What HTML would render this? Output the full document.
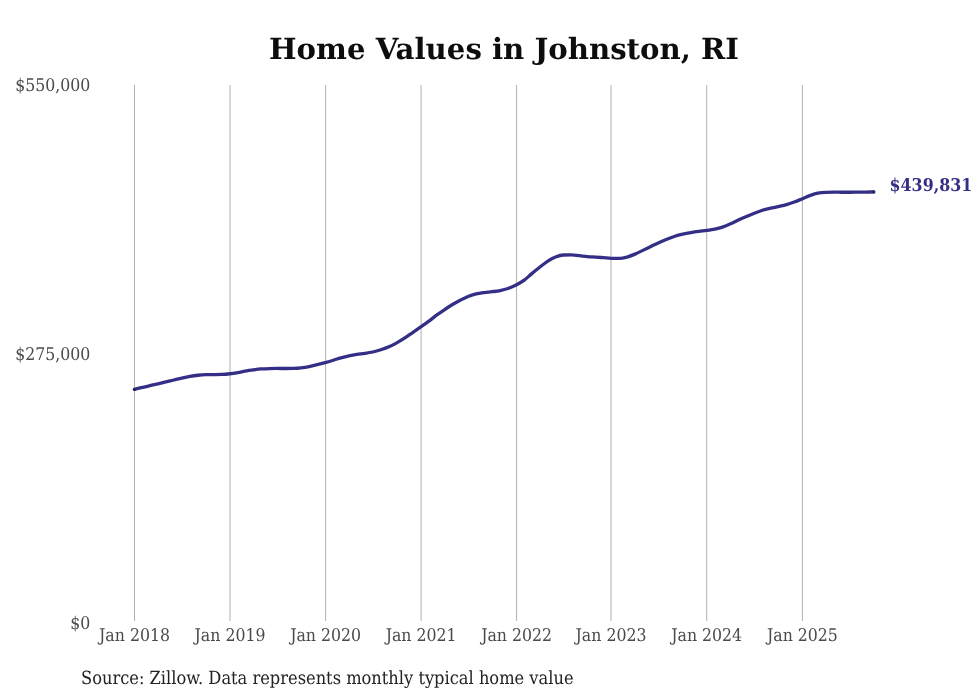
<!DOCTYPE html>
<html><head><meta charset="utf-8"><style>
html,body{margin:0;padding:0;background:#fff;width:980px;height:699px;overflow:hidden}
svg{display:block;will-change:transform}
text{text-rendering:geometricPrecision}
.ax{font-family:"DejaVu Serif Condensed","DejaVu Serif","Liberation Serif",serif;font-stretch:condensed;font-size:17.5px;fill:#4a4a4a}
.ti{font-family:"DejaVu Serif","Liberation Serif",serif;font-weight:bold;font-size:29.2px;fill:#0d0d0d}
.src{font-family:"DejaVu Serif Condensed","DejaVu Serif","Liberation Serif",serif;font-stretch:condensed;font-size:18.08px;fill:#222}
.val{font-family:"DejaVu Serif Condensed","DejaVu Serif","Liberation Serif",serif;font-stretch:condensed;font-weight:bold;font-size:17.6px;fill:#342f86}
</style></head><body>
<svg width="980" height="699" viewBox="0 0 980 699">
<rect width="980" height="699" fill="#fff"/>
<text x="504" y="59.4" text-anchor="middle" class="ti">Home Values in Johnston, RI</text>
<rect x="134.0" y="85" width="1" height="536" fill="#b0b0b0"/>
<rect x="229.5" y="85" width="1" height="536" fill="#b0b0b0"/>
<rect x="325.1" y="85" width="1" height="536" fill="#b0b0b0"/>
<rect x="420.6" y="85" width="1" height="536" fill="#b0b0b0"/>
<rect x="516.1" y="85" width="1" height="536" fill="#b0b0b0"/>
<rect x="610.5" y="85" width="1" height="536" fill="#b0b0b0"/>
<rect x="706.2" y="85" width="1" height="536" fill="#b0b0b0"/>
<rect x="801.9" y="85" width="1" height="536" fill="#b0b0b0"/>
<text x="90.4" y="90.5" text-anchor="end" class="ax">$550,000</text>
<text x="90.4" y="359.5" text-anchor="end" class="ax">$275,000</text>
<text x="90.4" y="628.5" text-anchor="end" class="ax">$0</text>
<text x="134.5" y="640.5" text-anchor="middle" class="ax">Jan 2018</text>
<text x="230.0" y="640.5" text-anchor="middle" class="ax">Jan 2019</text>
<text x="325.6" y="640.5" text-anchor="middle" class="ax">Jan 2020</text>
<text x="421.1" y="640.5" text-anchor="middle" class="ax">Jan 2021</text>
<text x="516.6" y="640.5" text-anchor="middle" class="ax">Jan 2022</text>
<text x="611.0" y="640.5" text-anchor="middle" class="ax">Jan 2023</text>
<text x="706.7" y="640.5" text-anchor="middle" class="ax">Jan 2024</text>
<text x="802.4" y="640.5" text-anchor="middle" class="ax">Jan 2025</text>
<path d="M134.50,389.31C137.20,388.71,139.90,388.10,142.60,387.45C145.04,386.86,147.47,386.20,149.91,385.61C152.61,384.96,155.31,384.40,158.01,383.77C160.62,383.16,163.23,382.54,165.84,381.92C168.54,381.28,171.24,380.66,173.94,380.01C176.55,379.38,179.17,378.68,181.78,378.08C184.48,377.47,187.18,376.86,189.88,376.39C192.57,375.92,195.27,375.52,197.97,375.24C200.58,374.97,203.20,374.78,205.81,374.72C208.51,374.65,211.21,374.67,213.91,374.62C216.52,374.57,219.13,374.56,221.74,374.43C224.44,374.30,227.14,374.07,229.84,373.75C232.54,373.43,235.24,372.99,237.94,372.52C240.37,372.10,242.81,371.54,245.25,371.12C247.95,370.65,250.65,370.24,253.35,369.88C255.96,369.53,258.57,369.20,261.18,368.98C263.88,368.75,266.58,368.58,269.28,368.53C271.89,368.48,274.51,368.46,277.12,368.46C279.82,368.46,282.52,368.50,285.22,368.50C287.91,368.50,290.61,368.46,293.31,368.39C295.92,368.32,298.54,368.13,301.15,367.83C303.85,367.52,306.55,367.08,309.25,366.55C311.86,366.04,314.47,365.37,317.08,364.72C319.78,364.05,322.48,363.35,325.18,362.60C327.88,361.85,330.58,361.04,333.28,360.23C335.80,359.47,338.33,358.60,340.85,357.89C343.55,357.13,346.25,356.45,348.95,355.87C351.56,355.31,354.17,354.84,356.79,354.43C359.48,354.01,362.18,353.80,364.88,353.39C367.49,352.99,370.11,352.60,372.72,352.01C375.42,351.40,378.12,350.63,380.82,349.77C383.51,348.91,386.21,348.03,388.91,346.85C391.53,345.71,394.14,344.31,396.75,342.85C399.45,341.34,402.15,339.67,404.85,337.92C407.46,336.23,410.07,334.35,412.68,332.55C415.38,330.69,418.08,328.84,420.78,326.94C423.48,325.04,426.18,323.19,428.88,321.16C431.32,319.33,433.75,317.21,436.19,315.40C438.89,313.40,441.59,311.62,444.29,309.82C446.90,308.08,449.51,306.36,452.12,304.78C454.82,303.15,457.52,301.61,460.22,300.20C462.83,298.83,465.45,297.45,468.06,296.42C470.76,295.36,473.46,294.60,476.16,293.96C478.85,293.32,481.55,292.98,484.25,292.60C486.86,292.23,489.48,292.04,492.09,291.70C494.79,291.35,497.49,291.07,500.19,290.52C502.80,289.98,505.41,289.34,508.02,288.46C510.72,287.55,513.42,286.47,516.12,285.09C518.82,283.71,521.52,282.20,524.22,280.20C526.66,278.39,529.09,275.93,531.53,273.88C534.23,271.61,536.93,269.40,539.63,267.28C542.24,265.23,544.85,263.06,547.46,261.37C550.16,259.62,552.86,258.10,555.56,257.03C558.17,255.99,560.79,255.04,563.40,254.98C566.10,254.91,568.80,254.88,571.50,254.88C574.19,254.88,576.89,255.44,579.59,255.72C582.20,255.99,584.82,256.32,587.43,256.54C590.13,256.77,592.83,256.86,595.53,257.05C598.14,257.23,600.75,257.44,603.36,257.64C606.06,257.85,608.76,258.21,611.46,258.29C614.16,258.37,616.86,258.41,619.56,258.41C621.99,258.41,624.43,257.80,626.87,257.15C629.57,256.43,632.27,255.29,634.97,254.14C637.58,253.02,640.19,251.63,642.80,250.37C645.50,249.07,648.20,247.78,650.90,246.48C653.51,245.22,656.13,243.86,658.74,242.67C661.44,241.44,664.14,240.30,666.83,239.22C669.53,238.14,672.23,237.06,674.93,236.20C677.54,235.37,680.16,234.73,682.77,234.13C685.47,233.51,688.17,233.01,690.87,232.54C693.48,232.09,696.09,231.71,698.70,231.36C701.40,231.00,704.10,230.80,706.80,230.43C709.50,230.06,712.20,229.72,714.90,229.14C717.42,228.60,719.95,227.97,722.47,227.13C725.17,226.23,727.87,225.07,730.57,223.86C733.18,222.69,735.79,221.25,738.40,220.03C741.10,218.76,743.80,217.56,746.50,216.40C749.11,215.28,751.73,214.18,754.34,213.17C757.04,212.13,759.74,211.10,762.44,210.27C765.13,209.44,767.83,208.83,770.53,208.20C773.15,207.59,775.76,207.12,778.37,206.54C781.07,205.94,783.77,205.41,786.47,204.63C789.08,203.87,791.69,202.93,794.30,201.96C797.00,200.96,799.70,199.80,802.40,198.70C805.10,197.59,807.80,196.29,810.50,195.33C812.94,194.46,815.37,193.63,817.81,193.12C820.51,192.56,823.21,192.36,825.91,192.28C828.52,192.21,831.13,192.17,833.74,192.17C836.44,192.17,839.14,192.22,841.84,192.23C844.45,192.24,847.07,192.25,849.68,192.25C852.38,192.25,855.08,192.20,857.78,192.17C860.47,192.13,863.17,192.07,865.87,192.04C868.48,192.01,871.10,191.99,873.71,191.97" fill="none" stroke="#342f86" stroke-width="3.3" stroke-linecap="round" stroke-linejoin="round"/>
<circle cx="134.50" cy="389.31" r="1.6" fill="#26225c"/><circle cx="873.71" cy="191.97" r="1.6" fill="#26225c"/>
<text x="889.6" y="190.5" class="val">$439,831</text>
<text x="81.0" y="683.5" class="src">Source: Zillow. Data represents monthly typical home value</text>
</svg>
</body></html>
